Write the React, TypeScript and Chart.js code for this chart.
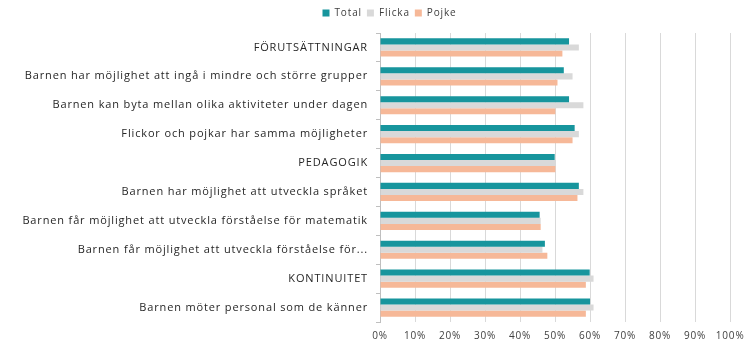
import React, { useEffect, useRef } from "react";
import { Chart, registerables } from "chart.js";

Chart.register(...registerables);

const categories = [
  "FÖRUTSÄTTNINGAR",
  "Barnen har möjlighet att ingå i mindre och större grupper",
  "Barnen kan byta mellan olika aktiviteter under dagen",
  "Flickor och pojkar har samma möjligheter",
  "PEDAGOGIK",
  "Barnen har möjlighet att utveckla språket",
  "Barnen får möjlighet att utveckla förståelse för matematik",
  "Barnen får möjlighet att utveckla förståelse för...",
  "KONTINUITET",
  "Barnen möter personal som de känner",
];

const totalValues = [54, 52.5, 54, 55.6, 49.9, 56.8, 45.6, 47.1, 59.9, 60];
const flickaValues = [56.8, 55, 58.1, 56.8, 50.1, 58.1, 45.9, 46.4, 61, 61];
const pojkeValues = [52.1, 50.7, 50.1, 55, 50.1, 56.4, 45.9, 47.8, 58.8, 58.8];

const xTicks = [0, 10, 20, 30, 40, 50, 60, 70, 80, 90, 100];

const FONT = "'Open Sans', 'DejaVu Sans', sans-serif";
const SPACING = "0.85px";
const LEGEND_SHIFT = 24;

const spacingPlugin = {
  id: "letterSpacing",
  beforeInit(chart: any) {
    const legend = chart.legend;
    if (legend) {
      const orig = legend.fit.bind(legend);
      legend.fit = function () {
        orig();
        this.height += 5;
      };
    }
  },
  beforeUpdate(chart: any) {
    (chart.ctx as any).letterSpacing = SPACING;
  },
  beforeLayout(chart: any) {
    (chart.ctx as any).letterSpacing = SPACING;
  },
  afterLayout(chart: any) {
    const legend = chart.legend;
    if (legend) {
      legend.left += LEGEND_SHIFT;
      legend.right += LEGEND_SHIFT;
    }
  },
  beforeDraw(chart: any) {
    (chart.ctx as any).letterSpacing = SPACING;
  },
};

export default function App() {
  const ref = useRef<HTMLCanvasElement | null>(null);

  useEffect(() => {
    document.body.style.margin = "0";
    const canvas = ref.current;
    if (!canvas) return;
    const chart = new Chart(canvas, {
      type: "bar",
      data: {
        labels: categories,
        datasets: [
          { label: "Total", data: totalValues, backgroundColor: "#17959d" },
          { label: "Flicka", data: flickaValues, backgroundColor: "#d9d9d9" },
          { label: "Pojke", data: pojkeValues, backgroundColor: "#f6b898" },
        ],
      },
      options: {
        indexAxis: "y",
        animation: false,
        responsive: false,
        maintainAspectRatio: false,
        datasets: {
          bar: { categoryPercentage: 0.63, barPercentage: 1.0 },
        },
        layout: { padding: { top: 3, right: 22, bottom: 4, left: 0 } },
        plugins: {
          tooltip: { enabled: false },
          legend: {
            position: "top",
            labels: {
              boxWidth: 7,
              boxHeight: 7,
              padding: 5,
              color: "#404040",
              font: { family: FONT, size: 10 },
            },
          },
        },
        scales: {
          x: {
            min: 0,
            max: 100,
            afterBuildTicks: (scale: any) => {
              scale.ticks = xTicks.map((v) => ({ value: v }));
            },
            ticks: {
              callback: (v: any) => v + "%",
              color: "#404040",
              font: { family: FONT, size: 10 },
              padding: 8.5,
            },
            grid: { color: "#d9d9d9", drawTicks: false },
            border: { display: false },
          },
          y: {
            afterFit: (scale: any) => {
              scale.width = 380;
            },
            ticks: {
              color: "#262626",
              font: { family: FONT, size: 11 },
              padding: 8,
              autoSkip: false,
            },
            grid: {
              drawOnChartArea: false,
              drawTicks: true,
              tickLength: 4,
              color: "#bfbfbf",
            },
            border: { display: true, color: "#bfbfbf" },
          },
        },
      },
      plugins: [spacingPlugin],
    });
    return () => chart.destroy();
  }, []);

  return <canvas ref={ref} width={753} height={355} style={{ display: "block" }} />;
}
